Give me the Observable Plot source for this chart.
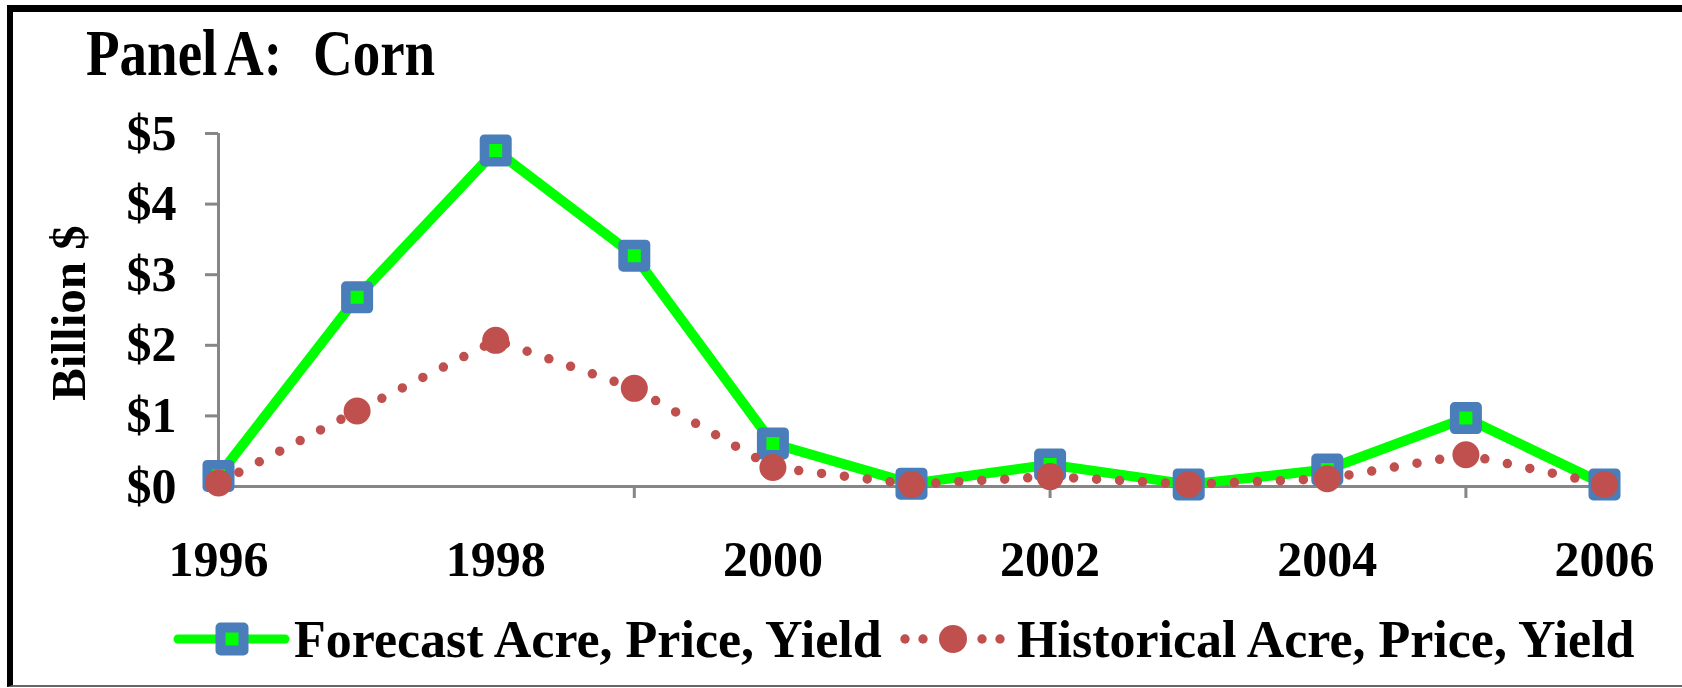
<!DOCTYPE html>
<html><head><meta charset="utf-8">
<script src="https://cdn.jsdelivr.net/npm/d3@7"></script>
<script src="https://cdn.jsdelivr.net/npm/@observablehq/plot@0.6"></script>
<style>
html,body{margin:0;padding:0;background:#fff;}
#wrap{position:relative;width:1682px;height:688px;overflow:hidden;font-family:"Liberation Serif","Times New Roman",serif;font-weight:bold;color:#000;background:#fff;}
#frame{position:absolute;left:7px;top:5px;width:1690px;height:673px;border-left:6px solid #000;border-top:7px solid #000;border-bottom:2px solid #666;z-index:5;pointer-events:none;}
#header{position:absolute;left:0;top:0;}
#plot{position:absolute;left:0;top:90px;}
#footer{position:absolute;left:0;top:600px;}
svg text{font-family:"Liberation Serif","Times New Roman",serif;font-weight:bold;}
</style>
</head><body>
<div id="wrap">
  <svg id="header" width="1682" height="90">
    <g transform="translate(86,75) scale(1,1.18)"><text x="0" y="0" font-size="55" style="word-spacing:-4px">Panel A:</text></g>
    <g transform="translate(313,75) scale(1,1.18)"><text x="0" y="0" font-size="55">Corn</text></g>
  </svg>
  <div id="plot"></div>
  <svg id="footer" width="1682" height="88"></svg>
  <div id="frame"></div>
</div>
<script>
const years = [1996, 1997, 1998, 1999, 2000, 2001, 2002, 2003, 2004, 2005, 2006];
const forecast = [0.15, 2.68, 4.76, 3.27, 0.61, 0.04, 0.31, 0.03, 0.24, 0.97, 0.03];
const historical = [0.05, 1.07, 2.07, 1.39, 0.27, 0.03, 0.14, 0.03, 0.11, 0.45, 0.03];
const yTicks = [0, 1, 2, 3, 4, 5];
const xTickLabels = [1996, 1998, 2000, 2002, 2004, 2006];
const xTickMarks = [1999, 2002, 2005];
const seriesNames = ["Forecast Acre, Price, Yield", "Historical Acre, Price, Yield"];
const yLabel = "Billion $";

const GREEN = "#00FF00", BLUE = "#4A7EBB", RED = "#C0504D", GRAY = "#868686";

const fData = years.map((y, i) => ({year: y, value: forecast[i]}));
const hData = years.map((y, i) => ({year: y, value: historical[i]}));

const chart = Plot.plot({
  width: 1682,
  height: 510,
  marginLeft: 218,
  marginRight: 78,
  marginTop: 43,
  marginBottom: 114,
  style: {fontFamily: "'Liberation Serif','Times New Roman',serif", fontWeight: "bold", fontSize: "50px", background: "transparent", overflow: "visible", color: "#000"},
  x: {domain: [1996, 2006]},
  y: {domain: [0, 5]},
  marks: [
    Plot.ruleX([1996], {y1: 0, y2: 5, stroke: GRAY, strokeWidth: 3}),
    Plot.axisY({ticks: yTicks, tickFormat: d => "$" + d, tickSize: 13, tickPadding: 29, stroke: GRAY, strokeWidth: 3, strokeOpacity: 1, fill: "#000", label: null, fontSize: 50}),
    Plot.axisX({ticks: xTickMarks, tickSize: 12, tickFormat: () => "", stroke: GRAY, strokeWidth: 3, strokeOpacity: 1, label: null}),
    Plot.axisX({ticks: xTickLabels, tickSize: 0, tickPadding: 54, tickFormat: d => String(d), fill: "#000", label: null, fontSize: 50}),
    Plot.ruleY([0], {stroke: GRAY, strokeWidth: 3}),
    Plot.text([yLabel], {frameAnchor: "left", textAnchor: "middle", rotate: -90, dx: -149, dy: 3, fontSize: 49, fontWeight: "bold", fill: "#000"}),
    Plot.line(fData, {x: "year", y: "value", stroke: GREEN, strokeWidth: 10}),
    Plot.dot(fData, {x: "year", y: "value", symbol: "square", r: 12.7, fill: GREEN, stroke: BLUE, strokeWidth: 9.5, strokeLinejoin: "round"}),
    Plot.line(hData, {x: "year", y: "value", stroke: RED, strokeWidth: 9.5, strokeDasharray: "0 23", strokeLinecap: "round"}),
    Plot.dot(hData, {x: "year", y: "value", r: 13.5, fill: RED, stroke: "none"})
  ]
});
document.getElementById("plot").appendChild(chart);

// legend
const ns = "http://www.w3.org/2000/svg";
const footer = document.getElementById("footer");
function el(tag, attrs, text) {
  const e = document.createElementNS(ns, tag);
  for (const k in attrs) e.setAttribute(k, attrs[k]);
  if (text != null) e.textContent = text;
  footer.appendChild(e);
  return e;
}
el("line", {x1: 178, x2: 285, y1: 39, y2: 39, stroke: GREEN, "stroke-width": 9, "stroke-linecap": "round"});
el("rect", {x: 232 - 11.5, y: 39 - 11.5, width: 23, height: 23, fill: GREEN, stroke: BLUE, "stroke-width": 10, "stroke-linejoin": "round"});
el("text", {x: 294, y: 57, "font-size": 52}, seriesNames[0]);
[905, 923, 982, 1000].forEach(x => el("circle", {cx: x, cy: 39, r: 4.7, fill: RED}));
el("circle", {cx: 953, cy: 39, r: 14, fill: RED});
el("text", {x: 1017, y: 57, "font-size": 52}, seriesNames[1]);
</script>
</body></html>
